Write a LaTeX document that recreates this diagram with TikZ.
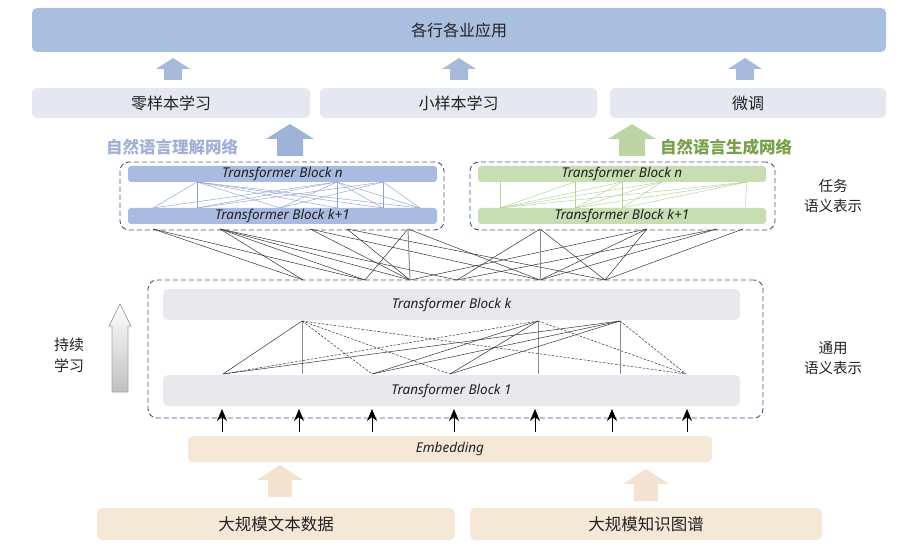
\documentclass[tikz,border=0pt]{standalone}
\usepackage{fontspec}
\setmainfont{Noto Sans}
\newfontfamily\cjk{Noto Sans CJK SC}
\usetikzlibrary{arrows.meta}
\definecolor{topblue}{HTML}{AABFE0}
\definecolor{smallarr}{HTML}{A8BAD9}
\definecolor{rowgray}{HTML}{E5E8F0}
\definecolor{nluarr}{HTML}{9FB3D8}
\definecolor{nlutext}{HTML}{A2B0D5}
\definecolor{nlgarr}{HTML}{BBD6A4}
\definecolor{nlgtext}{HTML}{77A14A}
\definecolor{blueblk}{HTML}{A9BBE0}
\definecolor{greenblk}{HTML}{C6DEB2}
\definecolor{bluelink}{HTML}{8EA3D2}
\definecolor{greenlink}{HTML}{B4D197}
\definecolor{dashc}{HTML}{4A4F8C}
\definecolor{grayblk}{HTML}{E9E8EC}
\definecolor{peach}{HTML}{F6E8D7}
\definecolor{peacharr}{HTML}{F4E3D1}
\definecolor{txt}{HTML}{222222}
\newcommand\blockup[7]{\fill[#1] (#2-#5,#3) -- (#2-#5,#4+#7) -- (#2-#6,#4+#7) -- (#2,#4) -- (#2+#6,#4+#7) -- (#2+#5,#4+#7) -- (#2+#5,#3) -- cycle;}
\tikzset{
  box/.style={rounded corners=5pt, inner sep=0pt, text=txt, font=\cjk\fontsize{16}{18}\selectfont},
  tblock/.style={rounded corners=3pt, inner sep=0pt, text=txt, font=\itshape\fontsize{13.5}{15}\selectfont},
  dbox/.style={draw=dashc, dashed, dash pattern=on 5pt off 3pt, line width=0.9pt, rounded corners=9pt, inner sep=0pt},
  side/.style={text=txt, align=center, font=\cjk\fontsize{14.5}{20}\selectfont},
  lbl/.style={font=\cjk\bfseries\fontsize{16.5}{18}\selectfont},
  link/.style={draw=black!80, line width=0.5pt},
  dlink/.style={draw=black!80, line width=0.5pt, dash pattern=on 2.5pt off 1.5pt},
  vlink/.style={draw=black!45, line width=1pt},
  blink/.style={draw=bluelink, line width=0.45pt},
  glink/.style={draw=greenlink, line width=0.45pt},
  inarr/.style={draw=black, line width=0.6pt, -{Stealth[length=12pt,width=10pt,inset=4pt]}}
}
\begin{document}
\begin{tikzpicture}[x=1pt,y=-1pt]
\useasboundingbox (0,0) rectangle (902,553);

% top
\node[box, fill=topblue, minimum width=854, minimum height=44] (app) at (459,30) {各行各业应用};
\blockup{smallarr}{173}{80}{58}{9}{17}{11}
\blockup{smallarr}{459}{80}{58}{9}{17}{11}
\blockup{smallarr}{745}{80}{58}{9}{17}{11}
\node[box, fill=rowgray, minimum width=278, minimum height=30] (zero) at (171,103) {零样本学习};
\node[box, fill=rowgray, minimum width=277, minimum height=30] (few) at (458.5,103) {小样本学习};
\node[box, fill=rowgray, minimum width=276, minimum height=30] (ft) at (748,103) {微调};

% NLU / NLG arrows and labels
\blockup{nluarr}{290}{156}{124}{13}{24}{15}
\blockup{nlgarr}{632}{156}{124}{13}{24}{15}
\node[lbl, text=nlutext] (nlul) at (172,147) {自然语言理解网络};
\node[lbl, text=nlgtext] (nlgl) at (726,147) {自然语言生成网络};

% task networks
\node[dbox, minimum width=324, minimum height=68] (nlubox) at (282,196) {};
\node[dbox, minimum width=305, minimum height=68] (nlgbox) at (622.5,196) {};
\node[tblock, fill=blueblk, minimum width=309, minimum height=16] (un) at (282.5,174) {Transformer Block n};
\node[tblock, fill=blueblk, minimum width=309, minimum height=16] (uk) at (282.5,216) {Transformer Block k+1};
\node[tblock, fill=greenblk, minimum width=288, minimum height=16] (gn) at (622,174) {Transformer Block n};
\node[tblock, fill=greenblk, minimum width=288, minimum height=16] (gk) at (622,216) {Transformer Block k+1};

% blue inner links
\foreach \n/\x in {1/197,2/337,3/383} \coordinate (ut\n) at (\x,182);
\foreach \n/\x in {1/153,2/197,3/280,4/337,5/383,6/420} \coordinate (ub\n) at (\x,208);
\foreach \a/\b in {1/1,1/2,1/4,1/5,1/6,2/1,2/2,2/3,2/4,2/6,3/2,3/3,3/5,3/6,2/5,1/3}
  \draw[blink] (ut\a) -- (ub\b);
% green inner links
\foreach \n/\x in {1/500,2/575,3/622,4/662,5/747} \coordinate (gt\n) at (\x,182);
\foreach \n/\x in {1/500,2/575,3/622,4/745} \coordinate (gb\n) at (\x,208);
\foreach \a/\b in {1/1,2/2,3/3,5/4,2/1,3/1,4/1,4/2,4/3,5/1,5/2,5/3,3/2}
  \draw[glink] (gt\a) -- (gb\b);

\node[side] (task) at (833,196) {任务\\语义表示};

% general block
\node[dbox, minimum width=615, minimum height=138] (genbox) at (455.5,349) {};
\node[tblock, fill=grayblk, minimum width=577, minimum height=31, rounded corners=5pt] (bk) at (451.5,304.5) {Transformer Block k};
\node[tblock, fill=grayblk, minimum width=577, minimum height=31, rounded corners=5pt] (b1) at (451.5,390.5) {Transformer Block 1};
\node[side] (gen) at (833,358) {通用\\语义表示};

% links between task boxes and general box
\foreach \n/\x in {1/153,2/220,3/310,4/347,5/408,6/540,7/647,8/717,9/743} \coordinate (t\n) at (\x,229);
\foreach \n/\x in {1/303,2/365,3/410,4/457,5/540,6/605} \coordinate (m\n) at (\x,280);
\foreach \a/\b in {1/1,1/2,2/1,2/2,2/3,2/4,3/3,3/5,4/3,5/2,5/5,6/4,6/6,7/5,7/6,7/3,8/4,8/5,9/6,4/6}
  \draw[link] (t\a) -- (m\b);
\draw[vlink] (t5) -- (m3);
\draw[vlink] (t6) -- (m5);

% links between block 1 and block k
\foreach \n/\x in {1/302,2/538,3/620} \coordinate (k\n) at (\x,321);
\foreach \n/\x in {1/223,2/302,3/372,4/450,5/538,6/620,7/686} \coordinate (p\n) at (\x,374);
\draw[link] (k1) -- (p1);
\draw[vlink] (k1) -- (p2);
\draw[dlink] (k1) -- (p3);
\draw[dlink] (k1) -- (p4);
\draw[dlink] (k1) -- (p7);
\draw[dlink] (k2) -- (p1);
\draw[link] (k2) -- (p3);
\draw[link] (k2) -- (p4);
\draw[vlink] (k2) -- (p5);
\draw[dlink] (k2) -- (p7);
\draw[link] (k3) -- (p1);
\draw[link] (k3) -- (p3);
\draw[link] (k3) -- (p4);
\draw[vlink] (k3) -- (p6);
\draw[dlink] (k3) -- (p7);

% continual learning arrow
\shade[top color=white, bottom color=black!25, draw=black!35, line width=0.7pt]
  (112,392) -- (112,326) -- (109,326) -- (120,304) -- (131,326) -- (128,326) -- (128,392) -- cycle;
\node[side, font=\cjk\fontsize{15}{21}\selectfont] (cl) at (69,355) {持续\\学习};

% embedding
\node[tblock, fill=peach, minimum width=524, minimum height=26, rounded corners=4pt] (emb) at (450,449) {Embedding};
\foreach \n/\x in {1/222,2/299,3/372,4/454,5/535,6/612,7/687} {
  \coordinate (e\n) at (\x,432);
  \coordinate (f\n) at (\x,409);
  \draw[inarr] (e\n) -- (f\n);
}

% data sources
\blockup{peacharr}{280}{497}{465}{12}{23}{15}
\blockup{peacharr}{646}{501}{469}{12}{23}{15}
\node[box, fill=peach, minimum width=358, minimum height=32, font=\cjk\fontsize{16.5}{18}\selectfont] (text) at (276,524) {大规模文本数据};
\node[box, fill=peach, minimum width=352, minimum height=32, font=\cjk\fontsize{16.5}{18}\selectfont] (kg) at (646,524) {大规模知识图谱};
\end{tikzpicture}
\end{document}
